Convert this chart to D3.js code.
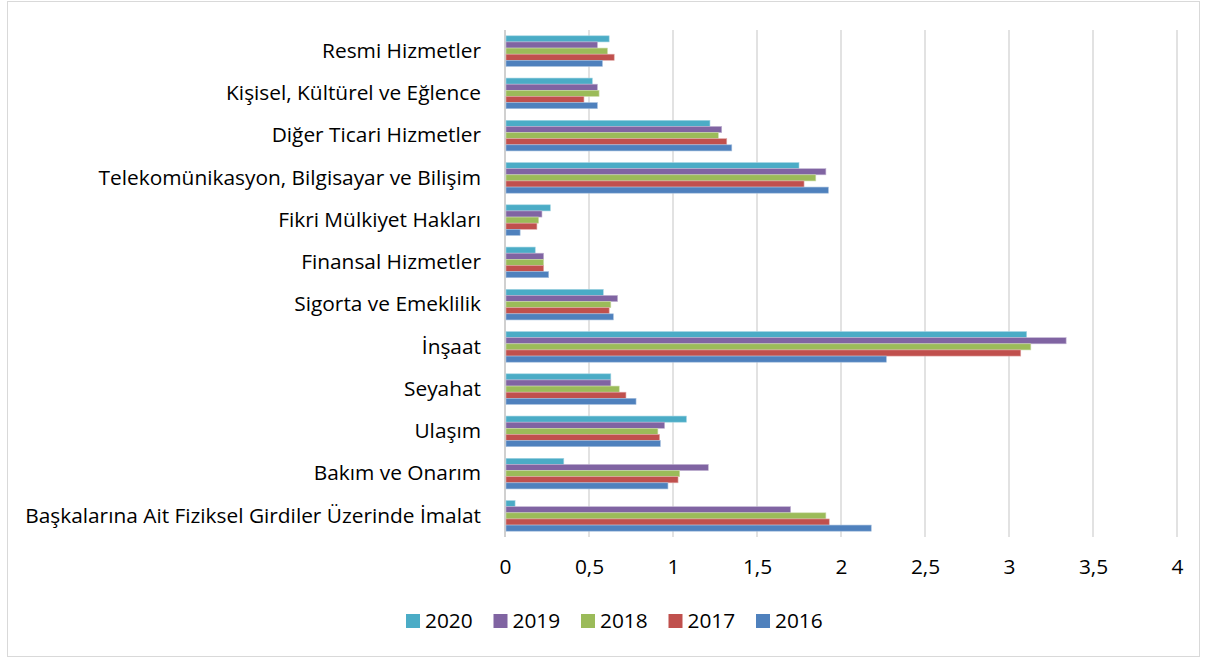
<!DOCTYPE html>
<html>
<head>
<meta charset="utf-8">
<script src="https://cdn.jsdelivr.net/npm/d3@7"></script>
<style>
  html, body { margin: 0; padding: 0; background: #fff; }
  svg text { font-family: "Open Sans", Lato, sans-serif; fill: #000; }
</style>
</head>
<body>
<div id="chart"></div>
<script>
// categories, top to bottom as drawn
const categories = [
  'Resmi Hizmetler',
  'Kişisel, Kültürel ve Eğlence',
  'Diğer Ticari Hizmetler',
  'Telekomünikasyon, Bilgisayar ve Bilişim',
  'Fikri Mülkiyet Hakları',
  'Finansal Hizmetler',
  'Sigorta ve Emeklilik',
  'İnşaat',
  'Seyahat',
  'Ulaşım',
  'Bakım ve Onarım',
  'Başkalarına Ait Fiziksel Girdiler Üzerinde İmalat'
]

const years = ['2020', '2019', '2018', '2017', '2016']

const v2020 = [0.62, 0.52, 1.22, 1.75, 0.27, 0.18, 0.585, 3.105, 0.63, 1.08, 0.35, 0.06]
const v2019 = [0.55, 0.55, 1.29, 1.91, 0.22, 0.23, 0.67, 3.34, 0.63, 0.95, 1.21, 1.70]
const v2018 = [0.61, 0.56, 1.27, 1.85, 0.20, 0.23, 0.63, 3.13, 0.68, 0.91, 1.04, 1.91]
const v2017 = [0.65, 0.47, 1.32, 1.78, 0.19, 0.23, 0.62, 3.07, 0.72, 0.92, 1.03, 1.93]
const v2016 = [0.58, 0.55, 1.35, 1.925, 0.09, 0.26, 0.645, 2.27, 0.78, 0.925, 0.97, 2.18]

const xTicks = [0, 0.5, 1, 1.5, 2, 2.5, 3, 3.5, 4]
const tickLabels = ['0', '0,5', '1', '1,5', '2', '2,5', '3', '3,5', '4']

const colors = {
  '2020': '#4BACC6',
  '2019': '#8064A2',
  '2018': '#9BBB59',
  '2017': '#C0504D',
  '2016': '#4F81BD'
}
const edges = {
  '2020': '#a5d5e3',
  '2019': '#c0b1d1',
  '2018': '#cddcac',
  '2017': '#e0a7a6',
  '2016': '#a7c0de'
}

const series = {'2020': v2020, '2019': v2019, '2018': v2018, '2017': v2017, '2016': v2016}

const width = 1208
const height = 660

const svg = d3.select('#chart')
  .append('svg')
  .attr('width', width)
  .attr('height', height)

// outer border
svg.append('rect')
  .attr('x', 7.5).attr('y', 1.5)
  .attr('width', 1192).attr('height', 655)
  .attr('fill', '#fff')
  .attr('stroke', '#d9d9d9')
  .attr('stroke-width', 1)

// pick a font size so the longest label is as wide as in the original (~456px)
const probe = svg.append('text')
  .attr('font-size', 18)
  .text(categories[categories.length - 1])
const fontSize = 18 * 456 / probe.node().getComputedTextLength()
probe.remove()

const x = d3.scaleLinear().domain([0, 4]).range([505, 1177])
const y = d3.scaleBand().domain(categories).range([30, 537]).paddingInner(0).paddingOuter(0)
const bandW = y.bandwidth()
const gap = bandW * 0.275
const yInner = d3.scaleBand().domain(years).range([gap / 2, bandW - gap / 2])

// gridlines
svg.append('g')
  .selectAll('line')
  .data(xTicks)
  .join('line')
  .attr('x1', d => x(d)).attr('x2', d => x(d))
  .attr('y1', 30).attr('y2', 537)
  .attr('stroke', d => d === 0 ? '#d0d0d0' : '#d9d9d9')
  .attr('stroke-width', d => d === 0 ? 2 : 1.5)

// bars
const groups = svg.append('g')
  .selectAll('g')
  .data(categories)
  .join('g')
  .attr('transform', d => `translate(0,${y(d)})`)

groups.selectAll('rect')
  .data((c, i) => years.map(yr => ({year: yr, value: series[yr][i]})))
  .join('rect')
  .attr('x', x(0) + 1)
  .attr('y', d => yInner(d.year))
  .attr('width', d => x(d.value) - x(0) - 1)
  .attr('height', yInner.bandwidth())
  .attr('fill', d => colors[d.year])
  .attr('stroke', d => edges[d.year])
  .attr('stroke-width', 0.6)

// x axis labels
const xAxis = d3.axisBottom(x)
  .tickValues(xTicks)
  .tickFormat((d, i) => tickLabels[i])
  .tickSize(0)
  .tickPadding(0)

const gx = svg.append('g')
  .attr('transform', 'translate(0,567)')
  .call(xAxis)
gx.select('.domain').remove()
gx.selectAll('text')
  .attr('font-size', fontSize)
  .attr('font-family', null)
  .attr('y', 0)
  .attr('dy', '0.35em')

// y axis labels
const yAxis = d3.axisLeft(y).tickSize(0).tickPadding(24)
const gy = svg.append('g')
  .attr('transform', `translate(${x(0)},0)`)
  .call(yAxis)
gy.select('.domain').remove()
gy.attr('font-family', null)
gy.selectAll('text')
  .attr('font-size', fontSize)
gx.attr('font-family', null)

// legend
const legendX = d3.scaleBand().domain(years).range([406, 406 + 87.5 * years.length])
const legend = svg.append('g').attr('transform', 'translate(0,621)')
const items = legend.selectAll('g')
  .data(years)
  .join('g')
  .attr('transform', d => `translate(${legendX(d)},0)`)
items.append('rect')
  .attr('x', 0).attr('y', -7)
  .attr('width', 14).attr('height', 14)
  .attr('fill', d => colors[d])
items.append('text')
  .attr('x', 19).attr('y', 0)
  .attr('dy', '0.35em')
  .attr('font-size', fontSize)
  .text(d => d)
</script>
</body>
</html>
